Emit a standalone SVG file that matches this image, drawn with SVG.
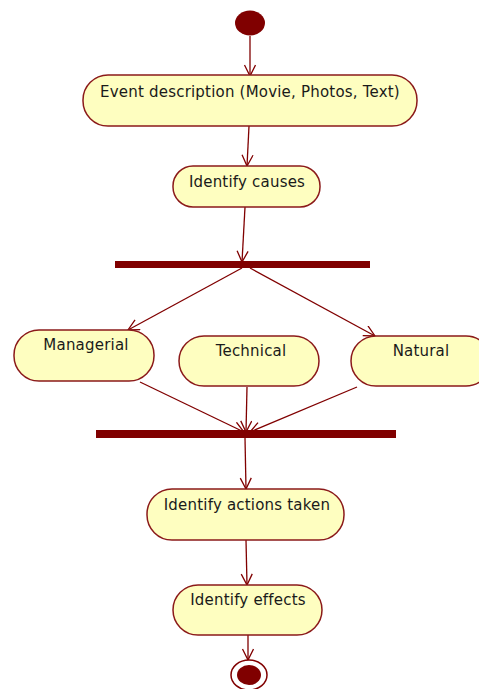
<svg xmlns="http://www.w3.org/2000/svg" width="479" height="689" viewBox="0 0 479 689">
<style>
.act{fill:#FEFEC0;stroke:#8B1A1A;stroke-width:1.5}
.lbl{font-family:"DejaVu Sans",Verdana,sans-serif;font-size:15px;letter-spacing:0.2px;fill:#1a1a1a;text-anchor:middle}
.bar{fill:#800000}
.edge{stroke:#800000;stroke-width:1.3;fill:none}
</style>
<defs>
<marker id="arr" markerUnits="userSpaceOnUse" markerWidth="14" markerHeight="14" refX="12" refY="6" orient="auto">
<path d="M1,0.5 L12,6 L1,11.5" fill="none" stroke="#800000" stroke-width="1.3"/>
</marker>
</defs>
<rect width="479" height="689" fill="#ffffff"/>
<g id="connectors">
<line class="edge" x1="250" y1="36" x2="250" y2="76" marker-end="url(#arr)"/>
<line class="edge" x1="249" y1="126" x2="247" y2="166" marker-end="url(#arr)"/>
<line class="edge" x1="245" y1="207" x2="242" y2="262" marker-end="url(#arr)"/>
<line class="edge" x1="242" y1="268" x2="128" y2="330" marker-end="url(#arr)"/>
<line class="edge" x1="250" y1="268" x2="375" y2="336" marker-end="url(#arr)"/>
<line class="edge" x1="140" y1="382" x2="244" y2="432" marker-end="url(#arr)"/>
<line class="edge" x1="247" y1="387" x2="246" y2="432" marker-end="url(#arr)"/>
<line class="edge" x1="357" y1="387" x2="250" y2="432" marker-end="url(#arr)"/>
<line class="edge" x1="245" y1="438" x2="246" y2="489" marker-end="url(#arr)"/>
<line class="edge" x1="246" y1="540" x2="247" y2="585" marker-end="url(#arr)"/>
<line class="edge" x1="248" y1="635" x2="248" y2="660" marker-end="url(#arr)"/>
</g>
<g id="start"><ellipse cx="250" cy="23" rx="15" ry="12.5" fill="#800000"/></g>
<g id="event"><rect class="act" x="83" y="75" width="334" height="51" rx="25"/><text class="lbl" x="250" y="97">Event description (Movie, Photos, Text)</text></g>
<g id="causes"><rect class="act" x="173" y="166" width="147" height="41" rx="20"/><text class="lbl" x="247" y="187">Identify causes</text></g>
<g id="fork"><rect class="bar" x="115" y="261" width="255" height="7"/></g>
<g id="managerial"><rect class="act" x="14" y="330" width="140" height="51" rx="25"/><text class="lbl" x="86" y="350">Managerial</text></g>
<g id="technical"><rect class="act" x="179" y="336" width="140" height="50" rx="25"/><text class="lbl" x="251" y="356">Technical</text></g>
<g id="natural"><rect class="act" x="351" y="336" width="140" height="50" rx="25"/><text class="lbl" x="421" y="356">Natural</text></g>
<g id="join"><rect class="bar" x="96" y="430" width="300" height="8"/></g>
<g id="actions"><rect class="act" x="147" y="489" width="197" height="51" rx="25"/><text class="lbl" x="247" y="510">Identify actions taken</text></g>
<g id="effects"><rect class="act" x="173" y="585" width="149" height="50" rx="25"/><text class="lbl" x="248" y="605">Identify effects</text></g>
<g id="end"><ellipse cx="249" cy="675" rx="18" ry="15" fill="#ffffff" stroke="#800000" stroke-width="1.5"/><ellipse cx="249" cy="675" rx="12" ry="10" fill="#800000"/></g>
</svg>
